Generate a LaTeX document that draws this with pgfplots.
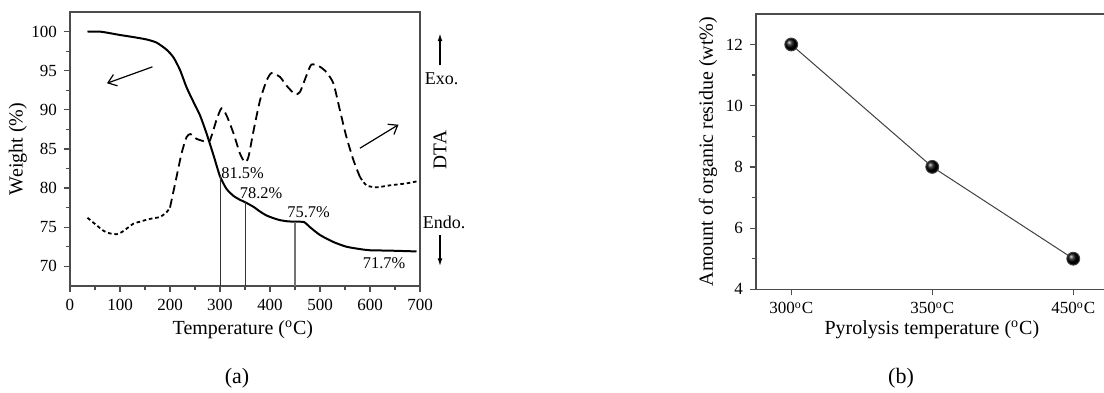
\documentclass[border=0pt]{standalone}
\usepackage{pgfplots}
\pgfplotsset{compat=1.18}
\usepackage{fontspec}
\setmainfont{Liberation Serif}
\usetikzlibrary{arrows.meta}
\pgfplotsset{
  myaxis/.style={
    scale only axis,
    /pgf/number format/assume math mode=true,
    axis line style={draw=black!70, line width=0.7pt},
    tick style={draw=black!70, line width=0.6pt},
    major tick length=3pt, minor tick length=2pt,
    tick align=outside,
    tick pos=left,
    tick label style={font=\fontsize{8.5}{10}\selectfont},
    label style={font=\fontsize{10}{12}\selectfont},
    clip=false,
  }
}
\begin{document}
\begin{tikzpicture}
\path[use as bounding box] (0,0) rectangle (552pt,196pt);
% ---------- panel (a)
\begin{axis}[myaxis,
  at={(35pt,53pt)}, anchor=south west,
  width=175pt, height=137pt,
  xmin=0, xmax=700, ymin=67.48, ymax=102.51,
  xtick={0,100,...,700}, ytick={70,75,...,100},
  minor x tick num=1, minor y tick num=1,
  xlabel={Temperature (\textsuperscript{o}C)},
  ylabel={Weight (\%)},
  every axis x label/.style={at={(axis description cs:0.494,-0.161)}, anchor=center},
  every axis y label/.style={at={(axis description cs:-0.149,0.5)}, rotate=90, anchor=center},
]
% TGA
\addplot[black, line width=1pt, smooth, tension=0.4] coordinates {
(35,100)(60,100)(80,99.8)(100,99.57)(127,99.3)(153,99.0)(173,98.6)(193,97.7)(207,96.7)(220,95.1)(233,92.9)(247,91.0)(260,89.3)(273,87.0)(287,84.2)(300,81.5)(313,79.9)(327,79.0)(340,78.5)(350,78.2)(367,77.6)(380,77.0)(393,76.5)(407,76.15)(420,75.9)(435,75.75)(450,75.7)(468,75.65)(480,75.0)(500,74.0)(527,73.1)(553,72.5)(580,72.2)(600,72.05)(640,72.0)(693,71.9)
};
% DTA
\addplot[black, line width=0.9pt, dash pattern=on 1.8pt off 1.4pt, smooth, tension=0.4] coordinates {
(35,76.2)(53,75.25)(68,74.5)(80,74.2)(93,74.1)(103,74.35)(113,74.8)(127,75.45)(140,75.7)(153,75.95)(167,76.15)(180,76.3)(193,76.9)(200,77.5)
};
\addplot[black, line width=0.9pt, dash pattern=on 4.5pt off 2.5pt, smooth, tension=0.4] coordinates {
(200,77.5)(203,78.4)(213,81.4)(223,84.4)(233,86.5)(241,86.9)(253,86.3)(273,85.9)(280,86.1)(293,88.7)(303,90.2)(313,89.3)(327,87.0)(340,84.4)(350,83.3)(357,84.0)(367,87.3)(380,91.2)(393,93.7)(403,94.7)(420,94.2)(433,93.1)(450,92.0)(460,92.3)(473,94.4)(483,95.8)(500,95.5)(513,94.8)(527,93.35)(540,89.9)(553,86.5)(567,83.55)(580,81.4)
};
\addplot[black, line width=0.9pt, dash pattern=on 1.8pt off 1.4pt, smooth, tension=0.4] coordinates {
(580,81.4)(593,80.35)(613,80.1)(640,80.35)(673,80.6)(697,80.9)
};
% drop lines
\addplot[black!80, line width=0.5pt] coordinates {(300,67.48)(300,81.5)};
\addplot[black!80, line width=0.5pt] coordinates {(350,67.48)(350,78.2)};
\addplot[black!55, line width=0.7pt] coordinates {(450,67.48)(450,75.7)};
% labels
\node[anchor=west, inner sep=0pt, font=\fontsize{8.2}{10}\selectfont] at (axis cs:302,81.9) {81.5\%};
\node[anchor=west, inner sep=0pt, font=\fontsize{8.2}{10}\selectfont] at (axis cs:339,79.3) {78.2\%};
\node[anchor=west, inner sep=0pt, font=\fontsize{8.2}{10}\selectfont] at (axis cs:434,76.9) {75.7\%};
\node[anchor=west, inner sep=0pt, font=\fontsize{8.2}{10}\selectfont] at (axis cs:585,70.35) {71.7\%};
% arrows
\draw[black, line width=0.6pt, -{Straight Barb[length=4pt,width=6pt]}] (axis cs:165,95.5) -- (axis cs:74,93.4);
\draw[black, line width=0.6pt, -{Straight Barb[length=4pt,width=6pt]}] (axis cs:580,85.1) -- (axis cs:657,88.1);
% DTA side annotations
\draw[black, line width=0.7pt, -{Latex[length=4pt,width=2.4pt]}] (axis cs:740,95.7) -- (axis cs:740,99.8);
\node[font=\fontsize{9}{11}\selectfont] at (axis cs:743,94.0) {Exo.};
\node[rotate=90, font=\fontsize{9.7}{11}\selectfont] at (axis cs:740,84.85) {DTA};
\node[font=\fontsize{9}{11}\selectfont] at (axis cs:748,75.6) {Endo.};
\draw[black, line width=0.7pt, -{Latex[length=4pt,width=2.4pt]}] (axis cs:740,73.95) -- (axis cs:740,70.0);
\end{axis}
% ---------- panel (b)
\begin{axis}[myaxis,
  at={(378pt,51.35pt)}, anchor=south west,
  width=176.25pt, height=137.7pt,
  xmin=-0.25, xmax=2.25, ymin=4, ymax=13,
  xtick={0,1,2}, xticklabels={300\textsuperscript{o}C,350\textsuperscript{o}C,450\textsuperscript{o}C},
  ytick={4,6,...,12}, minor y tick num=1,
  xlabel={Pyrolysis temperature (\textsuperscript{o}C)},
  ylabel={Amount of organic residue (wt\%)},
  every axis x label/.style={at={(axis description cs:0.499,-0.148)}, anchor=center},
  every axis y label/.style={at={(axis description cs:-0.136,0.5)}, rotate=90, anchor=center},
]
\addplot[black!75, line width=0.5pt, mark=ball, mark size=3.2pt, mark options={ball color=black}] coordinates {
(0,12)(1,8)(2,5)
};
\end{axis}
\node[font=\fontsize{11}{13}\selectfont] at (118.5pt,7pt) {(a)};
\node[font=\fontsize{11}{13}\selectfont] at (450.5pt,7pt) {(b)};
\end{tikzpicture}
\end{document}
